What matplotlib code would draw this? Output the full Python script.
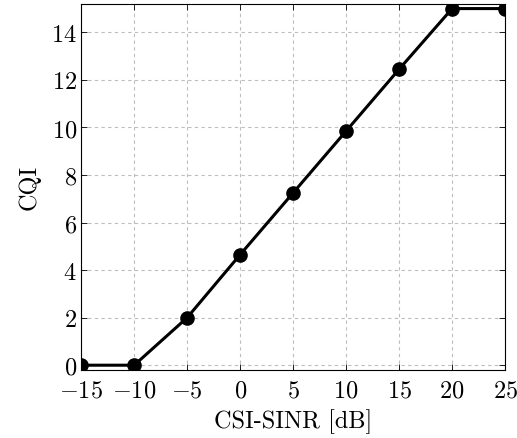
import matplotlib.pyplot as plt

plt.rcParams['font.family'] = 'cmr10'
plt.rcParams['mathtext.fontset'] = 'cm'
plt.rcParams['axes.formatter.use_mathtext'] = True

# data
sinr_db = [-15, -10, -5, 0, 5, 10, 15, 20, 25]
cqi = [0, 0, 2.0, 4.65, 7.25, 9.85, 12.45, 15, 15]

x_ticks = [-15, -10, -5, 0, 5, 10, 15, 20, 25]
y_ticks = [0, 2, 4, 6, 8, 10, 12, 14]

fig = plt.figure(figsize=(5.17, 4.39), dpi=100)
ax = fig.add_axes([0.157, 0.155, 0.820, 0.834])

ax.plot(sinr_db, cqi, color='black', linewidth=2.2, marker='o', markersize=9.5)

ax.set_xlim(-15, 25)
ax.set_ylim(-0.2, 15.2)
ax.set_xticks(x_ticks)
ax.set_yticks(y_ticks)
ax.grid(True, color='#bdbdbd', linestyle=(0, (3, 3)), linewidth=0.8)
ax.tick_params(direction='in', top=True, right=True, labelsize=17.5,
               length=4, width=0.6, pad=3)
ax.tick_params(axis='x', pad=7)
for s in ax.spines.values():
    s.set_linewidth(0.8)

ax.set_xlabel('CSI-SINR [dB]', fontsize=17.5, labelpad=5)
ax.set_ylabel('CQI', fontsize=17.5, labelpad=8)

plt.savefig('out.png', dpi=100)
